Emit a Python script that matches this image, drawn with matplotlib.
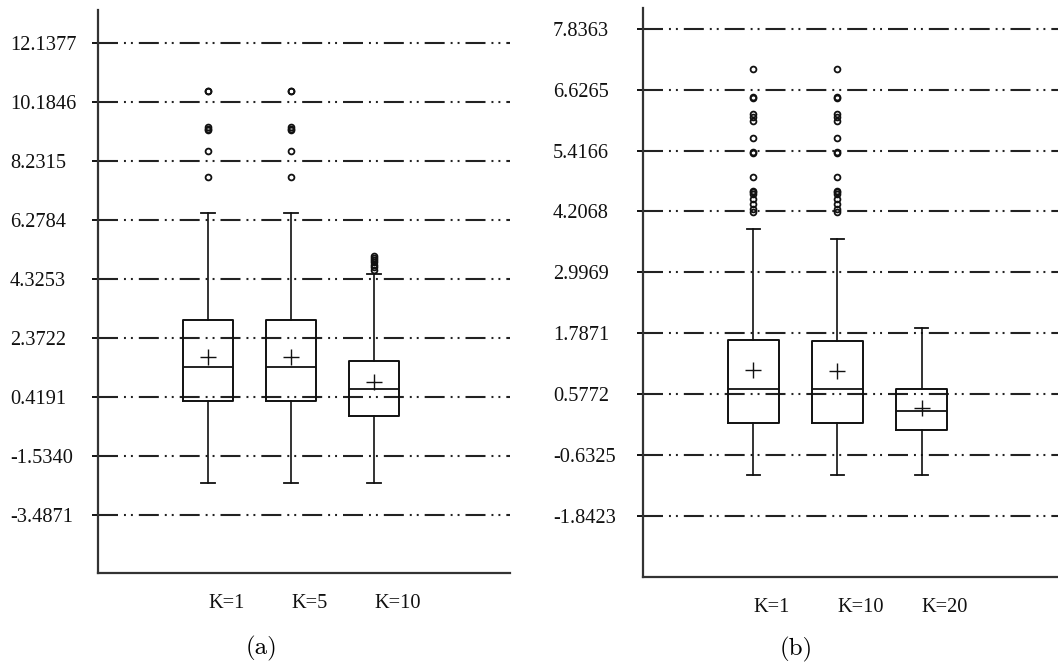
import matplotlib
matplotlib.use("Agg")
import matplotlib.pyplot as plt
import matplotlib.transforms as mtransforms

plt.rcParams['lines.scale_dashes'] = False

# ---------------- data ----------------
labels_a = ['K=1', 'K=5', 'K=10']
ticks_a = [12.1377, 10.1846, 8.2315, 6.2784, 4.3253, 2.3722, 0.4191, -1.5340, -3.4871]
tick_labels_a = ['12.1377', '10.1846', '8.2315', '6.2784', '4.3253', '2.3722', '0.4191', '-1.5340', '-3.4871']
q1_a = [0.30, 0.30, -0.21]
med_a = [1.41, 1.41, 0.70]
q3_a = [2.96, 2.96, 1.63]
mean_a = [1.74, 1.74, 0.91]
whislo_a = [-2.42, -2.42, -2.42]
whishi_a = [6.50, 6.50, 4.49]
fliers_a = [
    [10.57, 10.54, 9.36, 9.31, 9.27, 8.57, 7.71],
    [10.57, 10.54, 9.36, 9.31, 9.27, 8.57, 7.71],
    [4.64, 4.72, 4.80, 4.88, 4.96, 5.03, 5.08],
]

labels_b = ['K=1', 'K=10', 'K=20']
ticks_b = [7.8363, 6.6265, 5.4166, 4.2068, 2.9969, 1.7871, 0.5772, -0.6325, -1.8423]
tick_labels_b = ['7.8363', '6.6265', '5.4166', '4.2068', '2.9969', '1.7871', '0.5772', '-0.6325', '-1.8423']
q1_b = [0.00, 0.00, -0.126]
med_b = [0.68, 0.68, 0.24]
q3_b = [1.66, 1.63, 0.68]
mean_b = [1.06, 1.03, 0.31]
whislo_b = [-1.036, -1.036, -1.036]
whishi_b = [3.855, 3.66, 1.89]
fliers_b = [
    [7.04, 6.48, 6.46, 6.14, 6.09, 6.01, 5.67, 5.38, 5.36, 4.89, 4.62, 4.60, 4.56, 4.46, 4.36, 4.26, 4.19],
    [7.04, 6.48, 6.46, 6.14, 6.09, 6.01, 5.67, 5.38, 5.36, 4.89, 4.62, 4.60, 4.56, 4.46, 4.36, 4.26, 4.19],
    [],
]

# ---------------- figure ----------------
W, H = 1058, 665
fig = plt.figure(figsize=(W / 100, H / 100), dpi=100)

def px_axes(left, right, top, bottom):
    return fig.add_axes([left / W, (H - bottom) / H, (right - left) / W, (bottom - top) / H])

ax_a = px_axes(98, 510, 10, 573)
ax_b = px_axes(642.7, 1058, 8, 576.7)

grid_dash = (0, (14.4, 4.3, 1.4, 3.6, 1.4, 4.3))
tick_font = dict(family='Liberation Serif', size=14.7, color='#111111')


def draw(ax, labels, ticks, tick_labels, q1, med, q3, mean, wlo, whi, fliers,
         ylim, xlim, ylabel_pad):
    stats = []
    for i in range(len(labels)):
        stats.append(dict(label=labels[i], q1=q1[i], med=med[i], q3=q3[i],
                          mean=mean[i], whislo=wlo[i], whishi=whi[i],
                          fliers=fliers[i]))
    pos = list(range(1, len(labels) + 1))
    ax.bxp(stats, positions=pos, widths=0.6, capwidths=0.16,
           showmeans=True, showfliers=True, manage_ticks=False,
           boxprops=dict(color='#111111', linewidth=1.4),
           whiskerprops=dict(color='#111111', linewidth=1.2),
           capprops=dict(color='#111111', linewidth=1.3),
           medianprops=dict(color='#111111', linewidth=1.3),
           meanprops=dict(marker='+', markersize=11, markeredgewidth=1.0,
                          markeredgecolor='#111111', markerfacecolor='none'),
           flierprops=dict(marker='o', markersize=4.2, markeredgewidth=1.3,
                           markeredgecolor='#111111', markerfacecolor='none'))
    ax.set_ylim(*ylim)
    ax.set_xlim(*xlim)
    ax.set_yticks(ticks)
    ax.set_yticklabels(tick_labels, **tick_font)
    for t in ax.get_yticklabels():
        t.set_horizontalalignment('left')
    ax.tick_params(axis='y', direction='out', length=4.5, width=1.4,
                   pad=ylabel_pad, colors='#111111')
    ax.set_xticks(pos)
    ax.set_xticklabels(labels, **tick_font)
    off = mtransforms.ScaledTranslation(-39 / 100, 0, fig.dpi_scale_trans)
    for t in ax.get_xticklabels():
        t.set_horizontalalignment('left')
        t.set_transform(t.get_transform() + off)
    ax.tick_params(axis='x', length=0, pad=15)
    ax.yaxis.grid(True, linestyle=grid_dash, color='#222222', linewidth=1.5)
    ax.set_axisbelow(True)
    for s in ['top', 'right']:
        ax.spines[s].set_visible(False)
    ax.spines['left'].set_linewidth(1.6)
    ax.spines['bottom'].set_linewidth(1.6)
    ax.spines['left'].set_color('#333333')
    ax.spines['bottom'].set_color('#333333')
    ax.patch.set_visible(False)


draw(ax_a, labels_a, ticks_a, tick_labels_a, q1_a, med_a, q3_a, mean_a,
     whislo_a, whishi_a, fliers_a, (-5.401, 13.236), (-0.325, 4.639), 59.0)
draw(ax_b, labels_b, ticks_b, tick_labels_b, q1_b, med_b, q3_b, mean_b,
     whislo_b, whishi_b, fliers_b, (-3.048, 8.247), (-0.3135, 4.619), 60.0)

fig.text(261 / W, (H - 648) / H, '(a)', family='cmr10', size=18,
         ha='center', va='center')
fig.text(796 / W, (H - 649) / H, '(b)', family='cmr10', size=18,
         ha='center', va='center')

fig.savefig('out.png', dpi=100)
